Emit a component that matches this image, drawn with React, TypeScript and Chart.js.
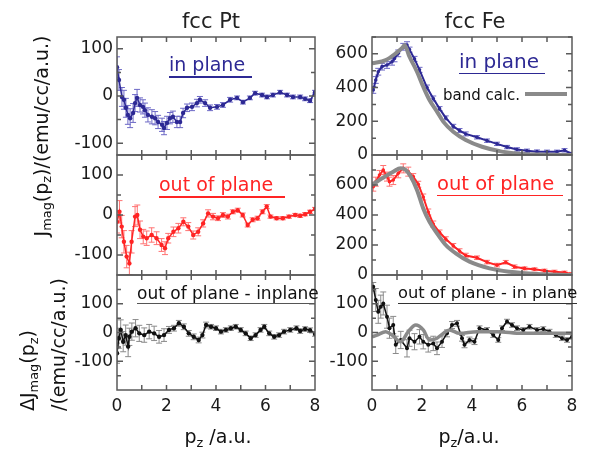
import React, { useEffect, useRef } from 'react';
import { Chart, registerables } from 'chart.js';

Chart.register(...registerables);

const FONT = '"DejaVu Sans", "Noto Sans", sans-serif';

// ---------- axis ticks ----------
const xTickLabels = [0, 2, 4, 6, 8];
const xFrameTicks = [1, 2, 3, 4, 5, 6, 7];
const ptTicks = [-100, 0, 100];
const ptFrame = [-100, -50, 0, 50, 100];
const diffTicks = [-100, 0, 100];
const diffFrame = [-150, -100, -50, 0, 50, 100, 150];
const feTicks = [0, 200, 400, 600];
const feFrame = [100, 200, 300, 400, 500, 600, 700];

// ---------- fcc Pt, in plane ----------
const ptInX = [0, 0.08, 0.2, 0.28, 0.36, 0.44, 0.53, 0.65, 0.73, 0.81, 0.93, 1.05, 1.13, 1.25, 1.41, 1.54, 1.66, 1.82, 1.9, 2.02, 2.14, 2.26, 2.42, 2.55, 2.67, 2.83, 3.03, 3.23, 3.35, 3.56, 3.76, 4.04, 4.28, 4.57, 4.85, 5.09, 5.37, 5.58, 5.86, 6.06, 6.3, 6.59, 6.87, 7.11, 7.4, 7.6, 7.8, 8.0];
const ptInY = [61, 34, -2, -8, -25, -40, -47, -36, -15, -4, -19, -23, -30, -40, -44, -47, -55, -61, -68, -57, -47, -44, -55, -55, -36, -25, -23, -15, -8, -15, -25, -23, -19, -8, -4, -13, -4, 6, 2, -2, 2, 8, 2, -2, -2, -6, -10, 8];
const ptInErr = [22, 22, 20, 20, 20, 20, 20, 20, 18, 18, 15, 15, 15, 15, 15, 14, 14, 14, 14, 14, 12, 12, 12, 12, 10, 8, 8, 8, 7, 7, 6, 5, 5, 5, 4, 4, 4, 4, 4, 4, 4, 4, 4, 4, 4, 4, 4, 4];

// ---------- fcc Pt, out of plane ----------
const ptOutX = [0, 0.1, 0.19, 0.28, 0.39, 0.5, 0.59, 0.73, 0.82, 0.93, 1.06, 1.2, 1.4, 1.6, 1.8, 1.94, 2.07, 2.28, 2.48, 2.68, 2.88, 3.08, 3.28, 3.48, 3.68, 3.88, 4.08, 4.28, 4.48, 4.68, 4.88, 5.08, 5.28, 5.48, 5.68, 5.88, 6.05, 6.2, 6.45, 6.7, 6.95, 7.2, 7.4, 7.6, 7.8, 8.0];
const ptOutY = [-17, 8, -29, -67, -104, -121, -67, -4, 0, -37, -54, -58, -50, -58, -75, -83, -58, -42, -33, -17, -29, -50, -42, -21, 4, -4, -8, 0, -4, 8, 12, 0, -25, -12, -8, 8, 21, -4, -8, -8, -4, 0, -2, 2, 8, 15];
const ptOutErr = [28, 28, 28, 28, 28, 28, 28, 25, 25, 22, 18, 18, 18, 16, 16, 16, 12, 12, 12, 10, 10, 10, 10, 9, 9, 8, 6, 6, 6, 5, 5, 5, 5, 5, 5, 5, 5, 4, 4, 4, 4, 4, 4, 4, 4, 4];

// ---------- fcc Pt, difference ----------
const ptDiffX = [0, 0.07, 0.15, 0.25, 0.35, 0.45, 0.5, 0.6, 0.75, 0.9, 1.1, 1.3, 1.5, 1.7, 1.9, 2.1, 2.3, 2.5, 2.7, 2.9, 3.1, 3.3, 3.45, 3.6, 3.8, 4.0, 4.2, 4.4, 4.6, 4.8, 5.0, 5.2, 5.4, 5.6, 5.8, 5.95, 6.15, 6.35, 6.55, 6.75, 7.0, 7.25, 7.4, 7.6, 7.8, 8.0];
const ptDiffY = [-72, -20, 9, -32, -9, -49, -15, 3, 15, -3, -9, 3, -3, -15, -9, 9, 15, 32, 20, -3, -15, -26, -9, 26, 20, 15, 3, 9, 15, 20, 9, -3, -20, -9, 9, 20, -3, -15, -9, 3, 9, 15, 5, 12, 8, -5];
const ptDiffErr = [35, 35, 35, 35, 35, 35, 30, 30, 30, 28, 25, 25, 25, 22, 22, 12, 10, 10, 10, 10, 10, 10, 10, 10, 8, 8, 8, 8, 8, 8, 8, 8, 8, 8, 8, 8, 8, 8, 8, 8, 8, 8, 8, 8, 8, 8];

// ---------- fcc Fe, in plane ----------
const feInX = [0.05, 0.15, 0.25, 0.4, 0.6, 0.8, 0.9, 1.05, 1.25, 1.4, 1.5, 1.7, 1.9, 2.2, 2.45, 2.7, 2.95, 3.25, 3.5, 3.75, 4.2, 4.6, 5.0, 5.4, 5.8, 6.2, 6.6, 7.0, 7.4, 7.7, 8.0];
const feInY = [386, 445, 494, 524, 534, 553, 573, 603, 642, 652, 625, 570, 505, 400, 335, 275, 220, 170, 145, 125, 105, 85, 66, 47, 33, 25, 20, 19, 19, 28, 6];
const feInErr = [20, 20, 20, 20, 20, 20, 20, 20, 20, 20, 15, 15, 15, 15, 15, 12, 12, 12, 12, 12, 10, 10, 10, 10, 10, 10, 10, 10, 10, 10, 10];
const bandInX = [0, 0.55, 0.95, 1.25, 1.3, 1.5, 1.8, 2.05, 2.3, 2.6, 2.85, 3.25, 3.75, 4.4, 5.2, 6.0, 7.0, 8.0];
const bandInY = [544, 563, 603, 642, 652, 583, 494, 405, 326, 257, 198, 138, 89, 49, 20, 6, 2, 0];

// ---------- fcc Fe, out of plane ----------
const feOutX = [0.05, 0.15, 0.3, 0.45, 0.6, 0.7, 0.85, 1.05, 1.25, 1.45, 1.65, 1.85, 2.05, 2.25, 2.45, 2.7, 2.95, 3.25, 3.5, 3.75, 4.2, 4.6, 5.0, 5.35, 5.7, 6.1, 6.5, 6.9, 7.3, 7.7, 8.0];
const feOutY = [589, 622, 667, 700, 656, 622, 633, 678, 711, 689, 656, 605, 520, 420, 340, 285, 240, 195, 160, 130, 115, 86, 66, 85, 55, 44, 38, 29, 22, 16, 7];
const feOutErr = [30, 30, 30, 30, 30, 30, 30, 30, 30, 30, 20, 20, 20, 20, 20, 15, 15, 15, 15, 15, 12, 12, 12, 12, 12, 10, 10, 10, 10, 10, 10];
const bandOutX = [0, 0.4, 0.85, 1.15, 1.35, 1.55, 1.8, 2.05, 2.3, 2.6, 2.95, 3.35, 3.9, 4.7, 5.5, 6.6, 8.0];
const bandOutY = [600, 644, 689, 711, 700, 656, 567, 444, 355, 278, 200, 144, 89, 44, 22, 7, 0];

// ---------- fcc Fe, difference ----------
const feDiffX = [0.05, 0.15, 0.25, 0.35, 0.45, 0.6, 0.7, 0.85, 0.95, 1.15, 1.4, 1.5, 1.7, 1.9, 2.05, 2.25, 2.45, 2.6, 2.8, 3.0, 3.2, 3.4, 3.6, 3.7, 3.9, 4.1, 4.3, 4.6, 4.85, 5.05, 5.2, 5.4, 5.6, 5.8, 6.05, 6.3, 6.6, 6.85, 7.1, 7.35, 7.6, 7.8, 8.0];
const feDiffY = [159, 113, 72, 90, 101, 55, 15, 26, -43, -26, -55, -20, -32, -15, -32, -43, -38, -55, -32, -3, 26, 32, -20, -43, -26, -32, 15, 9, -9, -26, 15, 38, 26, 15, 9, 20, 9, 12, 3, -9, -20, -26, -15];
const feDiffErr = [15, 40, 40, 40, 40, 40, 35, 30, 30, 30, 30, 28, 28, 25, 25, 25, 25, 22, 20, 12, 12, 10, 10, 10, 10, 10, 8, 8, 8, 8, 8, 8, 8, 8, 8, 8, 8, 8, 8, 8, 8, 8, 8];
const bandDiffX = [0, 0.2, 0.55, 0.8, 1.15, 1.45, 1.75, 2.05, 2.3, 2.6, 2.85, 3.1, 3.5, 4.2, 5.0, 6.0, 7.4, 8.0];
const bandDiffY = [-15, -9, 3, -9, -32, 3, 26, 9, -26, -20, -3, 9, -3, 3, 3, -3, -3, -3];

// ---------- styling ----------
const BLUE = '#2d2994';
const BLUE_ERR = '#6d69c6';
const RED = '#ff2424';
const RED_ERR = '#ff7373';
const BLACK = '#111111';
const BLACK_ERR = '#8a8a8a';
const GRAY = '#8a8a8a';

const COLS: [number, number][] = [[117, 315], [372, 572]];
const ROWS: [number, number][] = [[37, 155], [155, 275], [275, 390]];

type Series = {
  x: number[]; y: number[]; err?: number[];
  color: string; errColor?: string; band?: boolean;
  lineWidth: number; radius: number;
};
type PanelCfg = {
  col: number; row: number; yMin: number; yMax: number;
  yTicks: number[]; yFrame: number[]; yMajor: number[]; series: Series[];
};

const panels: PanelCfg[] = [
  { col: 0, row: 0, yMin: -125, yMax: 125, yTicks: ptTicks, yFrame: ptFrame, yMajor: ptTicks,
    series: [{ x: ptInX, y: ptInY, err: ptInErr, color: BLUE, errColor: BLUE_ERR, lineWidth: 1.5, radius: 2.2 }] },
  { col: 0, row: 1, yMin: -150, yMax: 150, yTicks: ptTicks, yFrame: ptFrame, yMajor: ptTicks,
    series: [{ x: ptOutX, y: ptOutY, err: ptOutErr, color: RED, errColor: RED_ERR, lineWidth: 1.5, radius: 2.2 }] },
  { col: 0, row: 2, yMin: -200, yMax: 200, yTicks: diffTicks, yFrame: diffFrame, yMajor: diffTicks,
    series: [{ x: ptDiffX, y: ptDiffY, err: ptDiffErr, color: BLACK, errColor: BLACK_ERR, lineWidth: 1.5, radius: 2.2 }] },
  { col: 1, row: 0, yMin: 0, yMax: 700, yTicks: feTicks, yFrame: feFrame, yMajor: feTicks,
    series: [
      { x: bandInX, y: bandInY, color: GRAY, band: true, lineWidth: 4, radius: 0 },
      { x: feInX, y: feInY, err: feInErr, color: BLUE, errColor: BLUE_ERR, lineWidth: 2, radius: 1.8 },
    ] },
  { col: 1, row: 1, yMin: 0, yMax: 800, yTicks: feTicks, yFrame: feFrame, yMajor: feTicks,
    series: [
      { x: bandOutX, y: bandOutY, color: GRAY, band: true, lineWidth: 4, radius: 0 },
      { x: feOutX, y: feOutY, err: feOutErr, color: RED, errColor: RED_ERR, lineWidth: 2, radius: 1.8 },
    ] },
  { col: 1, row: 2, yMin: -200, yMax: 200, yTicks: diffTicks, yFrame: diffFrame, yMajor: diffTicks,
    series: [
      { x: bandDiffX, y: bandDiffY, color: GRAY, band: true, lineWidth: 3.5, radius: 0 },
      { x: feDiffX, y: feDiffY, err: feDiffErr, color: BLACK, errColor: BLACK_ERR, lineWidth: 1.5, radius: 2 },
    ] },
];

const Y_W = 60;
const PAD_T = 20;
const PAD_R = 16;
const X_H = 34;

function Panel({ cfg }: { cfg: PanelCfg }) {
  const ref = useRef<HTMLCanvasElement>(null);
  const [al, ar] = COLS[cfg.col];
  const [at, ab] = ROWS[cfg.row];
  const bottomAxis = cfg.row === 2;
  const padB = bottomAxis ? 8 : 20;
  const cl = al - Y_W;
  const ct = at - PAD_T;
  const cw = ar - al + Y_W + PAD_R;
  const ch = ab - at + PAD_T + padB + (bottomAxis ? X_H : 0);

  useEffect(() => {
    const canvas = ref.current!;
    const datasets: any[] = cfg.series.map((s) => ({
      data: s.x.map((x, i) => ({ x, y: s.y[i] })),
      showLine: true,
      borderColor: s.color,
      backgroundColor: s.color,
      borderWidth: s.lineWidth,
      pointRadius: s.radius,
      pointBorderWidth: 0,
      pointBackgroundColor: s.color,
      tension: s.band ? 0.4 : 0,
      cubicInterpolationMode: s.band ? 'monotone' : 'default',
      errors: s.err,
      errColor: s.errColor,
    }));

    const errPlugin = {
      id: 'errbars',
      beforeDatasetsDraw(chart: any) {
        const { ctx, chartArea: a } = chart;
        const ys = chart.scales.y;
        ctx.save();
        ctx.beginPath();
        ctx.rect(a.left, a.top, a.right - a.left, a.bottom - a.top);
        ctx.clip();
        chart.data.datasets.forEach((ds: any, i: number) => {
          if (!ds.errors) return;
          const meta = chart.getDatasetMeta(i);
          ctx.strokeStyle = ds.errColor;
          ctx.lineWidth = 1;
          ctx.beginPath();
          meta.data.forEach((el: any, j: number) => {
            const e = ds.errors[j];
            const v = ds.data[j].y;
            const y1 = ys.getPixelForValue(v + e);
            const y2 = ys.getPixelForValue(v - e);
            ctx.moveTo(el.x, y1); ctx.lineTo(el.x, y2);
            ctx.moveTo(el.x - 3, y1); ctx.lineTo(el.x + 3, y1);
            ctx.moveTo(el.x - 3, y2); ctx.lineTo(el.x + 3, y2);
          });
          ctx.stroke();
        });
        ctx.restore();
      },
    };

    const framePlugin = {
      id: 'frame',
      afterDatasetsDraw(chart: any) {
        const { ctx, chartArea: a } = chart;
        const xs = chart.scales.x;
        const ys = chart.scales.y;
        ctx.save();
        ctx.strokeStyle = '#5a5a5a';
        ctx.lineWidth = 1.5;
        ctx.beginPath();
        xFrameTicks.forEach((v) => {
          const px = xs.getPixelForValue(v);
          ctx.moveTo(px, a.bottom); ctx.lineTo(px, a.bottom - 5);
          ctx.moveTo(px, a.top); ctx.lineTo(px, a.top + 5);
        });
        cfg.yFrame.forEach((v) => {
          const py = ys.getPixelForValue(v);
          const len = cfg.yMajor.includes(v) ? 6 : 4;
          ctx.moveTo(a.left, py); ctx.lineTo(a.left + len, py);
          ctx.moveTo(a.right, py); ctx.lineTo(a.right - len, py);
        });
        ctx.stroke();
        ctx.strokeRect(a.left, a.top, a.right - a.left, a.bottom - a.top);
        ctx.restore();
      },
    };

    const xScale: any = {
      type: 'linear',
      min: 0,
      max: 8,
      display: bottomAxis,
      afterBuildTicks: (s: any) => { s.ticks = xTickLabels.map((v) => ({ value: v })); },
      grid: { display: false, drawTicks: false },
      border: { display: false },
      ticks: { padding: 6, color: '#1a1a1a', font: { family: FONT, size: 17 } },
    };
    if (bottomAxis) xScale.afterFit = (s: any) => { s.height = X_H; };

    const chart = new Chart(canvas, {
      type: 'scatter',
      data: { datasets },
      options: {
        animation: false,
        responsive: false,
        maintainAspectRatio: false,
        layout: { padding: { left: 0, top: PAD_T, right: PAD_R, bottom: padB } },
        plugins: { legend: { display: false }, tooltip: { enabled: false } },
        scales: {
          x: xScale,
          y: {
            type: 'linear',
            min: cfg.yMin,
            max: cfg.yMax,
            afterBuildTicks: (s: any) => { s.ticks = cfg.yTicks.map((v) => ({ value: v })); },
            afterFit: (s: any) => { s.width = Y_W; },
            grid: { display: false, drawTicks: false },
            border: { display: false },
            ticks: { padding: 4, color: '#1a1a1a', font: { family: FONT, size: 17 } },
          },
        },
      } as any,
      plugins: [errPlugin, framePlugin],
    });
    return () => chart.destroy();
  }, []);

  return (
    <canvas
      ref={ref}
      width={cw}
      height={ch}
      style={{ position: 'absolute', left: cl, top: ct, width: cw, height: ch }}
    />
  );
}

const Sub = ({ children }: { children: React.ReactNode }) => (
  <span style={{ fontSize: '0.68em', verticalAlign: '-0.3em' }}>{children}</span>
);

function Label({ x, base, size, color, children, center }: {
  x: number; base: number; size: number; color: string; children: React.ReactNode; center?: boolean;
}) {
  return (
    <div
      style={{
        position: 'absolute',
        left: x,
        top: base - 0.846 * size,
        fontSize: size,
        lineHeight: `${size}px`,
        color,
        whiteSpace: 'nowrap',
        fontFamily: FONT,
        transform: center ? 'translateX(-50%)' : undefined,
      }}
    >
      {children}
    </div>
  );
}

function Line({ x1, x2, y, color, h = 1.5 }: { x1: number; x2: number; y: number; color: string; h?: number }) {
  return <div style={{ position: 'absolute', left: x1, top: y - h / 2, width: x2 - x1, height: h, background: color }} />;
}

export default function App() {
  return (
    <div style={{ position: 'absolute', left: 0, top: 0, width: 589, height: 450, background: '#fff', overflow: 'hidden', fontFamily: FONT }}>
      {panels.map((p, i) => <Panel key={i} cfg={p} />)}

      <Label x={211} base={29} size={21} color="#222" center>fcc Pt</Label>
      <Label x={475} base={29} size={21} color="#222" center>fcc Fe</Label>

      <Label x={169} base={71.5} size={19} color={BLUE}>in plane</Label>
      <Line x1={169} x2={252} y={77} color={BLUE} />
      <Label x={459} base={68} size={20} color={BLUE}>in plane</Label>
      <Line x1={459} x2={545} y={73.5} color={BLUE} />
      <Label x={443} base={101} size={15} color="#111">band calc.</Label>
      <Line x1={525} x2={567} y={94} color={GRAY} h={3.5} />

      <Label x={159} base={191.5} size={19} color={RED}>out of plane</Label>
      <Line x1={159} x2={285} y={197} color={RED} />
      <Label x={437} base={190} size={19.5} color={RED}>out of plane</Label>
      <Line x1={437} x2={563} y={195.5} color={RED} />

      <Label x={137} base={299} size={17} color="#111">out of plane - inplane</Label>
      <Line x1={137} x2={313} y={303.5} color="#555" />
      <Label x={398} base={299} size={16.3} color="#111">out of plane - in plane</Label>
      <Line x1={398} x2={577} y={303.5} color="#333" />

      <Label x={218} base={443} size={19} color="#111" center>p<Sub>z</Sub> /a.u.</Label>
      <Label x={469} base={443} size={19} color="#111" center>p<Sub>z</Sub>/a.u.</Label>

      <div
        style={{
          position: 'absolute', left: 44, top: 136, fontSize: 19, lineHeight: '22px', color: '#111',
          whiteSpace: 'nowrap', fontFamily: FONT, transform: 'translate(-50%, -50%) rotate(-90deg)',
        }}
      >
        J<Sub>mag</Sub>(p<Sub>z</Sub>)/(emu/cc/a.u.)
      </div>
      <div
        style={{
          position: 'absolute', left: 15, top: 411, fontSize: 19, lineHeight: '24px', color: '#111',
          whiteSpace: 'nowrap', fontFamily: FONT, transformOrigin: '0 0', transform: 'rotate(-90deg)',
        }}
      >
        <div>ΔJ<Sub>mag</Sub>(p<Sub>z</Sub>)</div>
        <div>/(emu/cc/a.u.)</div>
      </div>
    </div>
  );
}
